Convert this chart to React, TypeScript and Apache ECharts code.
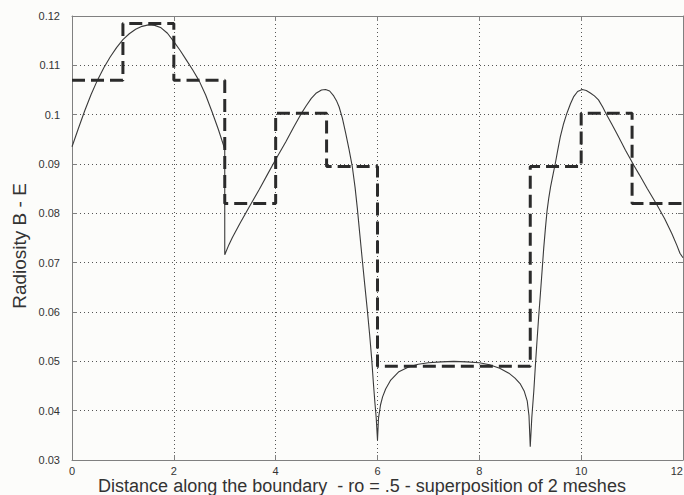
import React, { useEffect, useRef } from "react";
import * as echarts from "echarts";

// Solid curve (x positions and values)
const curveX = [
  0, 0.125, 0.25, 0.375, 0.5, 0.625, 0.75, 0.875, 1.0, 1.125, 1.25, 1.375, 1.5, 1.625, 1.75, 1.875, 2.0, 2.125, 2.25, 2.375, 2.5, 2.625, 2.75, 2.875, 3.0,
  3.0, 3.08, 3.15, 3.3, 3.48, 3.68, 3.85, 4.0, 4.2, 4.35, 4.49, 4.6, 4.7, 4.8, 4.9, 4.98, 5.06, 5.14, 5.2, 5.245, 5.31, 5.376, 5.44, 5.506, 5.56, 5.604, 5.65, 5.702, 5.75, 5.8, 5.845, 5.886, 5.92, 5.95, 5.975, 6.0,
  6.02, 6.06, 6.1, 6.16, 6.26, 6.42, 6.6, 6.8, 7.0, 7.25, 7.5, 7.75, 8.0, 8.2, 8.4, 8.58, 8.7, 8.8, 8.88, 8.94, 8.975, 9.0,
  9.03, 9.07, 9.1, 9.13, 9.165, 9.2, 9.235, 9.265, 9.3, 9.33, 9.365, 9.4, 9.45, 9.49, 9.54, 9.59, 9.65, 9.72, 9.79, 9.85, 9.93, 10.02, 10.1, 10.18, 10.26, 10.34, 10.42, 10.5, 10.6, 10.7, 10.8, 10.87, 10.95, 11.03, 11.15, 11.3, 11.49, 11.64, 11.78, 11.88, 11.94, 12.0,
];
const curveY = [
  0.0935, 0.0972, 0.1008, 0.1041, 0.107, 0.1095, 0.1117, 0.1136, 0.1152, 0.1164, 0.1173, 0.1179, 0.1182, 0.1181, 0.1176, 0.1165, 0.1148, 0.113, 0.111, 0.109, 0.1068, 0.104, 0.1006, 0.097, 0.093,
  0.0716, 0.0736, 0.0751, 0.078, 0.0813, 0.0849, 0.0881, 0.0909, 0.0945, 0.0974, 0.1, 0.1018, 0.1033, 0.1044, 0.105, 0.1051, 0.1048, 0.1038, 0.1027, 0.1016, 0.0993, 0.0962, 0.093, 0.0894, 0.0852, 0.081, 0.076, 0.0705, 0.0655, 0.0604, 0.0555, 0.0505, 0.0455, 0.0415, 0.0385, 0.034,
  0.0385, 0.0412, 0.0428, 0.0444, 0.0462, 0.0479, 0.0488, 0.0494, 0.0497, 0.0499, 0.05, 0.0499, 0.0497, 0.0493, 0.0486, 0.0476, 0.0466, 0.0455, 0.044, 0.042, 0.039, 0.0327,
  0.0385, 0.044, 0.049, 0.0537, 0.059, 0.0638, 0.0687, 0.073, 0.0772, 0.0805, 0.0832, 0.0854, 0.088, 0.09, 0.0928, 0.0955, 0.098, 0.1003, 0.1022, 0.1036, 0.1047, 0.1051, 0.1049, 0.1044, 0.1038, 0.103, 0.1016, 0.1, 0.0981, 0.0962, 0.0942, 0.0928, 0.0913, 0.0898, 0.0877, 0.085, 0.0817, 0.0789, 0.0759, 0.0735, 0.0719, 0.071,
];

// Dashed piecewise-constant (mesh elements): edges and element values
const stepEdges = [0, 1, 2, 3, 4, 5, 6, 9, 10, 11, 12];
const stepValues = [0.107, 0.1185, 0.107, 0.082, 0.1003, 0.0895, 0.049, 0.0895, 0.1003, 0.082];

const xTitle = "Distance along the boundary  - ro = .5 - superposition of 2 meshes";
const yTitle = "Radiosity B - E";

export default function App() {
  const ref = useRef<HTMLDivElement>(null);
  useEffect(() => {
    if (!ref.current) return;
    const chart = echarts.init(ref.current, null, { renderer: "svg" });
    const curveData = curveX.map((x, i) => [x, curveY[i]]);
    const stepData = stepEdges.map((x, i) => [x, i < stepValues.length ? stepValues[i] : stepValues[stepValues.length - 1]]);
    const font = "'Liberation Sans', Arial, sans-serif";
    const axisLineColor = "#808080";
    const gridLine = { show: true, lineStyle: { color: "#555", width: 1, type: [1, 3] as any } };
    chart.setOption({
      animation: false,
      backgroundColor: "#fcfcfa",
      grid: { left: 72, right: 1, top: 16, bottom: 35, containLabel: false, outerBoundsMode: "none" },
      xAxis: [
        {
          type: "value", min: 0, max: 12, interval: 2, position: "bottom",
          axisLine: { show: true, onZero: false, lineStyle: { color: axisLineColor, width: 1 } },
          axisTick: { show: true, inside: true, length: 5, lineStyle: { color: axisLineColor } },
          axisLabel: { color: "#333", fontSize: 11, fontFamily: font, margin: 5, alignMaxLabel: "right", alignMinLabel: "center", hideOverlap: false },
          splitLine: gridLine,
        },
        {
          type: "value", min: 0, max: 12, interval: 2, position: "top",
          axisLine: { show: true, onZero: false, lineStyle: { color: axisLineColor, width: 1 } },
          axisTick: { show: true, inside: true, length: 5, lineStyle: { color: axisLineColor } },
          axisLabel: { show: false },
          splitLine: { show: false },
        },
      ],
      yAxis: [
        {
          type: "value", min: 0.03, max: 0.12, interval: 0.01, position: "left",
          axisLine: { show: true, onZero: false, lineStyle: { color: axisLineColor, width: 1 } },
          axisTick: { show: true, inside: true, length: 5, lineStyle: { color: axisLineColor } },
          axisLabel: {
            color: "#333", fontSize: 11, fontFamily: font, margin: 12,
            formatter: (v: number) => String(parseFloat(v.toFixed(2))),
          },
          splitLine: gridLine,
        },
        {
          type: "value", min: 0.03, max: 0.12, interval: 0.01, position: "right",
          axisLine: { show: true, onZero: false, lineStyle: { color: axisLineColor, width: 1 } },
          axisTick: { show: true, inside: true, length: 5, lineStyle: { color: axisLineColor } },
          axisLabel: { show: false },
          splitLine: { show: false },
        },
      ],
      series: [
        {
          type: "line", data: curveData, showSymbol: false, symbol: "none", smooth: false,
          lineStyle: { color: "#3a3a3a", width: 1.1 }, z: 3,
        },
        {
          type: "line", data: stepData, step: "end", showSymbol: false, symbol: "none",
          lineStyle: { color: "#2b2b2b", width: 3, type: [13, 6] as any }, z: 4,
        },
      ],
      graphic: [
        {
          type: "text", x: 362, y: 486,
          style: { text: xTitle, fill: "#333", font: `18px ${font}`, textAlign: "center", textVerticalAlign: "middle" },
        },
        {
          type: "text", x: 19, y: 246, rotation: Math.PI / 2,
          style: { text: yTitle, fill: "#333", font: `19px ${font}`, textAlign: "center", textVerticalAlign: "middle" },
        },
      ],
    });
    return () => chart.dispose();
  }, []);
  return <div ref={ref} style={{ position: "fixed", left: 0, top: 0, width: 684, height: 495 }} />;
}
